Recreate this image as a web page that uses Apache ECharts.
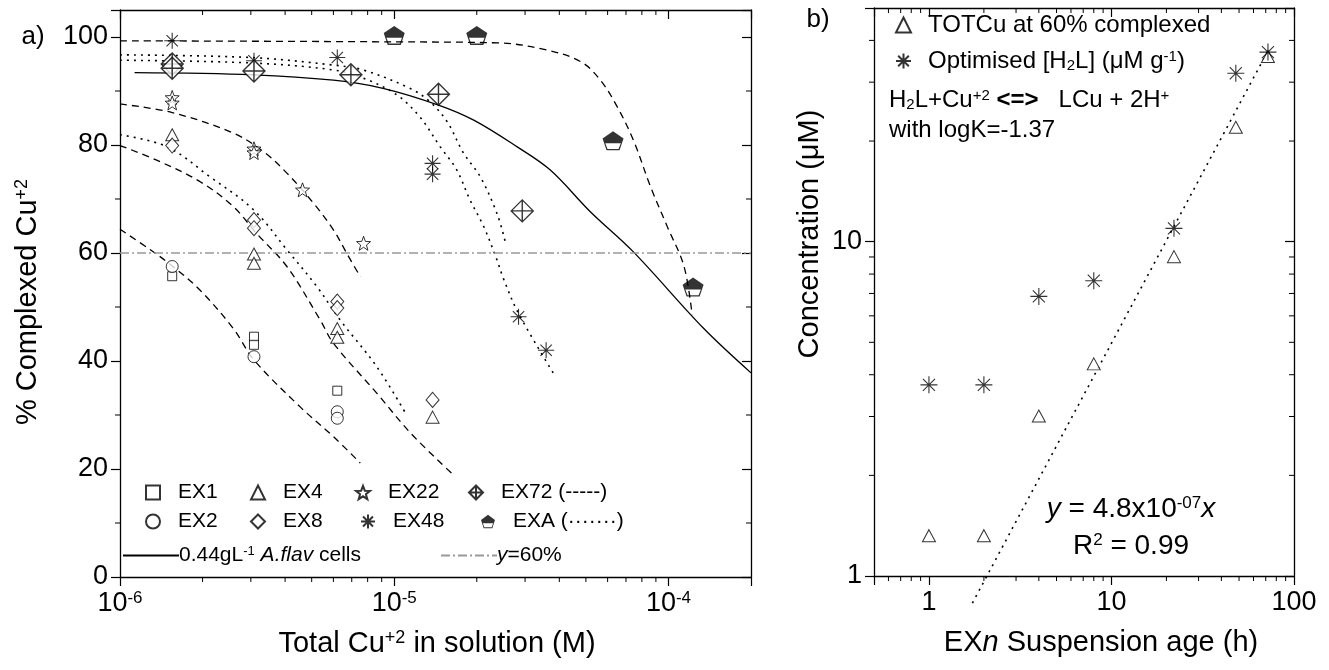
<!DOCTYPE html>
<html>
<head>
<meta charset="utf-8">
<script src="https://cdn.jsdelivr.net/npm/echarts@6/dist/echarts.min.js"></script>
<style>
  html, body { margin: 0; padding: 0; background: #fff; }
  #main { width: 1329px; height: 670px; }
</style>
</head>
<body>
<div id="main"></div>
<script>
// ---- panel a) : % complexed vs total Cu (log x) ----
var ex1 = [[1.55e-6, 55.7], [3.08e-6, 44.5], [3.08e-6, 43.0], [6.2e-6, 34.5]];
var ex2 = [[1.55e-6, 57.5], [3.08e-6, 40.8], [6.2e-6, 30.6], [6.2e-6, 29.4]];
var ex4 = [[1.55e-6, 81.9], [3.08e-6, 59.8], [3.08e-6, 58.1], [6.2e-6, 46.0], [6.2e-6, 44.4], [1.38e-5, 29.6]];
var ex8 = [[1.55e-6, 79.9], [3.08e-6, 66.1], [3.08e-6, 64.6], [6.2e-6, 51.0], [6.2e-6, 49.8], [1.38e-5, 32.8]];
var ex22 = [[1.55e-6, 88.8], [1.55e-6, 87.8], [3.08e-6, 79.3], [3.08e-6, 78.6], [4.63e-6, 71.7], [7.73e-6, 61.8]];
var ex48 = [[1.55e-6, 99.3], [3.08e-6, 95.6], [6.2e-6, 96.2], [1.38e-5, 76.6], [1.38e-5, 74.6], [2.84e-5, 48.2], [3.58e-5, 42.0]];
var ex72 = [[1.55e-6, 95.0], [1.55e-6, 94.2], [3.08e-6, 93.7], [6.95e-6, 93.0], [1.45e-5, 89.4], [2.93e-5, 67.8]];
var exA = [[1e-5, 100.3], [2e-5, 100.3], [6.28e-5, 80.8], [1.23e-4, 53.7]];

// fitted curves
var fitCells = [[1.13e-6, 93.4], [3.06e-6, 93.0], [6.0e-6, 92.0], [9.1e-6, 90.5], [1.45e-5, 87.4], [1.95e-5, 84.6],
  [2.8e-5, 79.7], [3.7e-5, 75.4], [5.2e-5, 67.6], [7.45e-5, 60.2], [1.34e-4, 46.1], [2e-4, 37.8]];
var fitTop = [[1e-6, 99.3], [1e-5, 99.1], [2.4e-5, 98.9], [3.6e-5, 97.6], [4.8e-5, 95.4], [5.65e-5, 92.0],
  [6.5e-5, 87.1], [7.45e-5, 80.9], [8.6e-5, 72.3], [9.9e-5, 64.9], [1.14e-4, 57.5], [1.22e-4, 48.5]];
var fitDashA = [[1e-6, 87.6], [1.55e-6, 86.0], [2.59e-6, 82.2], [3.33e-6, 78.8], [4.06e-6, 74.8], [5.08e-6, 69.2],
  [6.0e-6, 64.3], [6.72e-6, 59.9], [7.52e-6, 55.6]];
var fitDashB = [[1e-6, 79.9], [1.36e-6, 77.2], [1.96e-6, 73.2], [2.59e-6, 68.6], [3.15e-6, 63.6], [4.06e-6, 57.5],
  [5.37e-6, 47.6], [6.0e-6, 43.3], [8.65e-6, 34.0], [1.15e-5, 26.6], [1.62e-5, 19.2]];
var fitDashC = [[1e-6, 64.4], [1.29e-6, 60.6], [1.56e-6, 57.5], [1.96e-6, 53.1], [2.59e-6, 46.0], [3.08e-6, 40.2],
  [4.54e-6, 31.5], [6.0e-6, 26.0], [7.52e-6, 21.1]];
var fitDotA = [[1e-6, 81.9], [1.48e-6, 79.7], [2.13e-6, 74.1], [3.07e-6, 68.0], [4.06e-6, 60.6], [5.22e-6, 53.8],
  [6.35e-6, 47.6], [8.65e-6, 38.9], [1.11e-5, 30.0]];
var fitDotB = [[1e-6, 96.7], [3e-6, 96.2], [6e-6, 94.8], [7.7e-6, 93.9], [1.14e-5, 90.5], [1.35e-5, 88.0],
  [1.56e-5, 84.3], [1.79e-5, 78.5], [2.06e-5, 74.1], [2.37e-5, 67.3], [2.54e-5, 62.1]];
var fitDotC = [[1e-6, 95.7], [3e-6, 95.2], [6e-6, 93.9], [7.7e-6, 92.4], [1.02e-5, 89.3], [1.24e-5, 85.2],
  [1.47e-5, 79.7], [1.69e-5, 75.4], [1.89e-5, 69.8], [2.12e-5, 64.9], [2.37e-5, 58.7], [2.5e-5, 55.3],
  [2.84e-5, 48.8], [3.81e-5, 37.7]];
var line60 = [[1e-6, 60], [2e-4, 60]];

// ---- panel b) : concentration vs suspension age ----
var ageH = [1, 2, 4, 8, 22, 48, 72];
var totCu = [1.32, 1.32, 3.01, 4.31, 9.02, 22.0, 35.8];
var optH2L = [3.73, 3.73, 6.86, 7.64, 10.96, 31.9, 36.9];
var fitAge = [[1.73, 0.83], [72.7, 37.6]];

// minor tick positions
var aMinorX = [2e-6, 3e-6, 4e-6, 5e-6, 6e-6, 7e-6, 8e-6, 9e-6, 2e-5, 3e-5, 4e-5, 5e-5, 6e-5, 7e-5, 8e-5, 9e-5];
var aMinorY = [10, 30, 50, 70, 90];
var bMinorX = [0.6, 0.7, 0.8, 0.9, 2, 3, 4, 5, 6, 7, 8, 9, 20, 30, 40, 50, 60, 70, 80, 90];
var bMinorY = [2, 3, 4, 5, 6, 7, 8, 9, 20, 30, 40];

var FONT = '"Liberation Sans", Arial, sans-serif';

var SYM_STAR = 'path://M0,-1L0.247,-0.34L0.951,-0.309L0.399,0.13L0.588,0.809L0,0.42L-0.588,0.809L-0.399,0.13L-0.951,-0.309L-0.247,-0.34Z';
var SYM_AST = 'path://M0,-1L0,1M-1,0L1,0M-0.71,-0.71L0.71,0.71M-0.71,0.71L0.71,-0.71';
var SYM_XDIA = 'path://M0,-1L1,0L0,1L-1,0Z M0,-1L0,1 M-1,0L1,0';
var SYM_PENT = 'path://M0,-1L0.95,-0.31L0.834,0.05L-0.834,0.05L-0.95,-0.31Z M-0.834,0.05L0.834,0.05L0.59,0.81L-0.59,0.81Z M-0.7,0.14L-0.5,0.69L0.5,0.69L0.7,0.14Z';

function rich(size) {
  var s = Math.round(size * 0.62);
  return {
    sup: { fontSize: s, lineHeight: Math.round(size * 0.28), verticalAlign: 'top', fontFamily: FONT, color: '#000' },
    sub: { fontSize: s, lineHeight: Math.round(size * 0.36), verticalAlign: 'bottom', fontFamily: FONT, color: '#000' },
    i: { fontSize: size, fontStyle: 'italic', fontFamily: FONT, color: '#000' },
    b: { fontSize: size, fontWeight: 'bold', fontFamily: FONT, color: '#000' }
  };
}

function isDecade(v) {
  var l = Math.log10(v);
  return Math.abs(l - Math.round(l)) < 1e-6;
}

function openStyle(w) {
  return { color: '#fff', borderColor: '#000', borderWidth: w || 1 };
}

function scatter(name, data, symbol, size, xi, style) {
  return {
    name: name, type: 'scatter', xAxisIndex: xi, yAxisIndex: xi, data: data,
    symbol: symbol, symbolSize: size, itemStyle: style || openStyle(),
    emphasis: { disabled: true }, z: 4
  };
}

function curve(name, data, type, xi, extra) {
  var s = {
    name: name, type: 'line', xAxisIndex: xi, yAxisIndex: xi, data: data,
    symbol: 'none', smooth: 0.35, silent: true, z: 3,
    itemStyle: { color: 'transparent', borderWidth: 0 },
    lineStyle: { color: '#000', width: type === 'dotted' ? 1.6 : 1.3, type: type === 'dotted' ? [2, 5] : (type === 'dashed' ? [7, 5] : type) }
  };
  for (var k in extra) s[k] = extra[k];
  return s;
}

function minorTicks(values, dim, xi, base) {
  return {
    type: 'custom', xAxisIndex: xi, yAxisIndex: xi, clip: false, silent: true, z: 6,
    data: values.map(function (v) { return dim === 'x' ? [v, base] : [base, v]; }),
    renderItem: function (params, api) {
      var cs = params.coordSys, L = 5, segs;
      if (dim === 'x') {
        var px = api.coord([api.value(0), api.value(1)])[0];
        segs = [[px, cs.y + cs.height, px, cs.y + cs.height + L], [px, cs.y, px, cs.y + L]];
      } else {
        var py = api.coord([api.value(0), api.value(1)])[1];
        segs = [[cs.x - L, py, cs.x, py], [cs.x + cs.width - L, py, cs.x + cs.width, py]];
      }
      return {
        type: 'group',
        children: segs.map(function (g) {
          return { type: 'line', shape: { x1: g[0], y1: g[1], x2: g[2], y2: g[3] }, style: { stroke: '#000', lineWidth: 1 } };
        })
      };
    }
  };
}

var axisLine = { show: true, onZero: false, lineStyle: { color: '#000', width: 1.3 } };

function xAx(grid, min, max, top, fmt) {
  return {
    gridIndex: grid, type: 'log', min: min, max: max, position: top ? 'top' : 'bottom',
    axisLine: axisLine,
    axisTick: { show: true, inside: !!top, length: 9, lineStyle: { color: '#000', width: 1.2 } },
    axisLabel: top ? { show: false } : {
      show: true, margin: 13, color: '#000', fontSize: 27, fontFamily: FONT, formatter: fmt, rich: rich(27)
    },
    splitLine: { show: false }, minorTick: { show: false }
  };
}

function yAx(grid, type, min, max, right, fmt, interval) {
  var a = {
    gridIndex: grid, type: type, min: min, max: max, position: right ? 'right' : 'left',
    axisLine: axisLine,
    axisTick: { show: true, inside: !!right, length: 9, lineStyle: { color: '#000', width: 1.2 } },
    axisLabel: right ? { show: false } : {
      show: true, margin: 12, color: '#000', fontSize: 27, fontFamily: FONT, formatter: fmt
    },
    splitLine: { show: false }, minorTick: { show: false }
  };
  if (interval) a.interval = interval;
  return a;
}

var powFmt = function (v) {
  return isDecade(v) ? '10{sup|' + Math.round(Math.log10(v)) + '}' : '';
};
var plainLogFmt = function (v) {
  return isDecade(v) ? String(Math.round(v)) : '';
};
var pctFmt = function (v) {
  return (v % 20 === 0 && v <= 100) ? String(v) : '';
};

// one legend component per entry so each sits where the figure has it
var legendSpots = [
  ['EX1', 145, 482], ['EX4', 250, 482], ['EX22', 355, 482], ['EX72', 468, 482],
  ['EX2', 145, 511], ['EX8', 250, 511], ['EX48', 360, 511], ['EXA', 481, 511]
];
var legendNames = {
  'EX72': 'EX72 (-----)',
  'EXA': 'EXA (\u00b7\u00b7\u00b7\u00b7\u00b7\u00b7\u00b7)',
  'cells': '0.44gL{sup|-1} {i|A.flav} cells',
  'y60': '{i|y}=60%',
  'TOT': 'TOTCu at 60% complexed',
  'OPT': 'Optimised [H{sub|2}L] (\u03bcM g{sup|-1})'
};
function legendFmt(n) { return legendNames[n] || n; }

var legends = legendSpots.map(function (s) {
  return {
    data: [s[0]], left: s[1], top: s[2], padding: 0, itemWidth: 14, itemHeight: 14,
    selectedMode: false, formatter: legendFmt,
    textStyle: { fontSize: 21, fontFamily: FONT, color: '#000', padding: [0, 0, 0, 13], rich: rich(21) }
  };
});
legends.push({
  data: ['cells'], left: 122, top: 545, padding: 0, itemWidth: 56, itemHeight: 14, selectedMode: false,
  formatter: legendFmt, textStyle: { fontSize: 21, fontFamily: FONT, color: '#000', padding: [0, 0, 0, -5], rich: rich(21) }
});
legends.push({
  data: ['y60'], left: 440, top: 545, padding: 0, itemWidth: 56, itemHeight: 14, selectedMode: false,
  formatter: legendFmt, textStyle: { fontSize: 21, fontFamily: FONT, color: '#000', padding: [0, 0, 0, -5], rich: rich(21) }
});
legends.push({
  data: ['TOT', 'OPT'], left: 895, top: 13, orient: 'vertical', itemGap: 12, padding: 0,
  itemWidth: 15, itemHeight: 15, selectedMode: false, formatter: legendFmt,
  textStyle: { fontSize: 24, fontFamily: FONT, color: '#000', padding: [0, 0, 0, 12], rich: rich(24) }
});

function label(x, y, text, size, extra) {
  var g = {
    type: 'text', x: x, y: y, z: 10,
    style: { text: text, fontSize: size, fontFamily: FONT, fill: '#000', align: 'center', verticalAlign: 'middle', rich: rich(size) }
  };
  for (var k in extra) {
    if (k === 'style') { for (var j in extra.style) g.style[j] = extra.style[j]; }
    else g[k] = extra[k];
  }
  return g;
}

var chart = echarts.init(document.getElementById('main'), null, { renderer: 'canvas' });

var option = {
  animation: false,
  backgroundColor: '#fff',
  grid: [
    { left: 120, top: 10, width: 631, height: 567 },
    { left: 874, top: 8, width: 420, height: 568 }
  ],
  xAxis: [
    xAx(0, 1e-6, 2e-4, false, powFmt),
    xAx(0, 1e-6, 2e-4, true),
    xAx(1, 0.5, 100, false, plainLogFmt),
    xAx(1, 0.5, 100, true)
  ],
  yAxis: [
    yAx(0, 'value', 0, 105, false, pctFmt, 20),
    yAx(0, 'value', 0, 105, true, null, 20),
    yAx(1, 'log', 1, 50, false, plainLogFmt),
    yAx(1, 'log', 1, 50, true)
  ],
  legend: legends,
  graphic: [
    label(33, 37, 'a)', 26),
    label(818, 20, 'b)', 26),
    label(28, 302, '% Complexed Cu{sup|+2}', 29, { rotation: Math.PI / 2 }),
    label(810, 234, 'Concentration (\u03bcM)', 29, { rotation: Math.PI / 2 }),
    label(437, 644, 'Total Cu{sup|+2} in solution (M)', 29),
    label(1101, 643, 'EX{i|n} Suspension age (h)', 29),
    label(889, 100, 'H{sub|2}L+Cu{sup|+2} {b|<=>}   LCu + 2H{sup|+}', 24, { style: { align: 'left' } }),
    label(889, 130, 'with logK=-1.37', 24, { style: { align: 'left' } }),
    label(1131, 509, '{i|y} = 4.8x10{sup|-07}{i|x}', 28),
    label(1131, 546, 'R{sup|2} = 0.99', 28)
  ],
  series: [
    curve('fitTop', fitTop, 'dashed', 0),
    curve('fitDashA', fitDashA, 'dashed', 0),
    curve('fitDashB', fitDashB, 'dashed', 0),
    curve('fitDashC', fitDashC, 'dashed', 0),
    curve('fitDotA', fitDotA, 'dotted', 0),
    curve('fitDotB', fitDotB, 'dotted', 0),
    curve('fitDotC', fitDotC, 'dotted', 0),
    curve('cells', fitCells, 'solid', 0),
    curve('y60', line60, [9, 3, 2, 3], 0, { smooth: false, lineStyle: { color: '#999', width: 1.3, type: [9, 3, 2, 3] } }),
    scatter('EX1', ex1, 'rect', 9, 0),
    scatter('EX2', ex2, 'circle', 12, 0),
    scatter('EX4', ex4, 'triangle', [13, 12], 0),
    scatter('EX8', ex8, 'diamond', [13, 15], 0),
    scatter('EX22', ex22, SYM_STAR, 14, 0),
    scatter('EX48', ex48, SYM_AST, 16, 0, { color: 'transparent', borderColor: '#000', borderWidth: 1.1 }),
    scatter('EX72', ex72, SYM_XDIA, 22, 0, openStyle(1.4)),
    scatter('EXA', exA, SYM_PENT, [21, 19], 0, { color: '#000', borderWidth: 0 }),

    curve('fitAge', fitAge, 'dotted', 2, { clip: false, smooth: false }),
    scatter('TOT', ageH.map(function (a, i) { return [a, totCu[i]]; }), 'triangle', [13, 12], 2),
    scatter('OPT', ageH.map(function (a, i) { return [a, optH2L[i]]; }), SYM_AST, 17, 2,
      { color: 'transparent', borderColor: '#000', borderWidth: 1.1 }),

    minorTicks(aMinorX, 'x', 0, 0),
    minorTicks(aMinorY, 'y', 0, 1e-6),
    minorTicks(bMinorX, 'x', 2, 1),
    minorTicks(bMinorY, 'y', 2, 0.5)
  ]
};

chart.setOption(option);
</script>
</body>
</html>
